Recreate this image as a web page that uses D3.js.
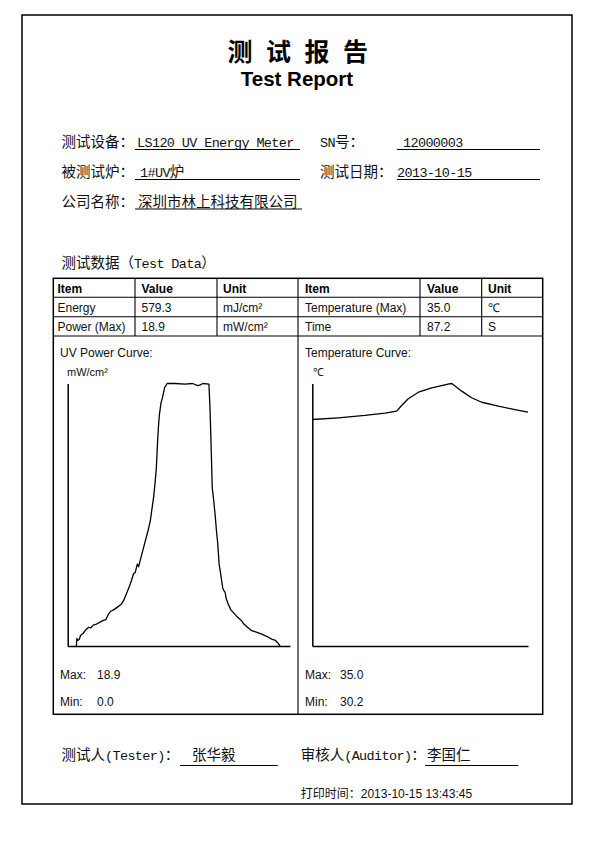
<!DOCTYPE html>
<html><head><meta charset="utf-8">
<script src="https://cdn.jsdelivr.net/npm/d3@7"></script>
<style>body{margin:0;background:#fff}svg{display:block}</style>
</head><body>
<svg id="c" width="595" height="842"></svg>
<script>
// ---------- data ----------
const titleCN = ["测","试","报","告"];
const titleEN = "Test Report";
const infoRows = [
  {label:"测试设备：", value:"LS120 UV Energy Meter", label2:"SN号：", value2:"12000003"},
  {label:"被测试炉：", value:"1#UV炉", label2:"测试日期：", value2:"2013-10-15"},
  {label:"公司名称：", value:"深圳市林上科技有限公司"}
];
const sectionTitle = "测试数据（Test Data）";
const tableHeader = ["Item","Value","Unit","Item","Value","Unit"];
const tableRows = [
  ["Energy","579.3","mJ/cm²","Temperature (Max)","35.0","℃"],
  ["Power (Max)","18.9","mW/cm²","Time","87.2","S"]
];
const totalTime = 87.2;
const uvMax = 18.9, uvMin = 0.0, tempMax = 35.0, tempMin = 30.2;
const uvTime  = [3.4,3.6,4.0,4.6,5.0,6.0,7.0,8.2,9.0,10.0,11.0,12.5,14.0,15.0,16.0,16.8,18.0,19.5,21.0,22.0,23.0,24.0,25.0,25.8,26.5,27.3,27.8,28.5,29.5,30.5,31.5,32.4,33.0,33.7,34.3,34.8,35.2,35.6,36.0,36.6,37.2,38.0,39.0,42.0,46.0,49.0,51.0,52.0,53.0,55.4,55.8,56.2,56.7,57.2,57.8,58.4,58.8,59.4,60.0,60.4,60.8,61.2,61.7,62.2,63.0,64.0,65.0,66.5,68.3,69.0,70.5,72.2,74.0,76.1,78.0,80.0,81.5,82.5,83.3];
const uvPower = [0.0,0.55,0.4,0.5,0.75,0.9,1.15,1.35,1.3,1.5,1.55,1.7,1.85,1.9,2.3,2.5,2.6,2.8,3.0,3.3,3.75,4.2,4.7,5.2,5.3,5.9,5.7,6.2,6.9,7.6,8.3,9.0,9.8,10.7,11.8,12.9,14.5,15.8,16.7,17.5,17.9,18.6,18.9,18.9,18.85,18.9,18.75,18.8,18.9,18.85,17.2,14.8,11.4,10.6,9.5,8.2,7.5,5.9,5.2,4.7,4.2,4.0,3.9,3.4,3.0,2.6,2.4,2.1,1.8,1.6,1.35,1.1,1.0,0.85,0.7,0.5,0.4,0.2,0.0];
const tempTime  = [0,10.5,21.3,29.4,34.1,36.1,38.8,42.9,48.3,52.3,55.3,56.4,60.4,64.4,68.5,75.2,81.9,87.2];
const tempValue = [30.2,30.43,30.74,31.04,31.31,32.07,32.96,33.84,34.43,34.73,34.96,35.0,33.98,33.1,32.5,31.97,31.53,31.18];
const tester = "张华毅", auditor = "李国仁";
const printTime = "2013-10-15 13:43:45";

// ---------- drawing ----------
const svg = d3.select("#c");
const CJK = "'Noto Sans CJK SC', sans-serif";
const MONO = "'Liberation Mono', monospace";
const ARIAL = "'Liberation Sans', Arial, sans-serif";

svg.append("rect").attr("width",595).attr("height",842).attr("fill","#fff");
svg.append("rect").attr("x",22).attr("y",15).attr("width",550).attr("height",789)
  .attr("fill","none").attr("stroke","#000").attr("stroke-width",1.5);

function mixed(x, y, str, size){
  const t = svg.append("text").attr("x",x).attr("y",y).attr("fill","#111");
  (str.match(/[\x20-\x7E]+|[^\x20-\x7E]+/g)||[]).forEach(run=>{
    const ascii = /^[\x20-\x7E]+$/.test(run);
    const sp = t.append("tspan").attr("font-family", ascii?MONO:CJK)
      .style("white-space","pre").text(run);
    if(ascii){
      const fs = size*0.93;
      sp.attr("font-size",fs).attr("letter-spacing", (size*0.515 - fs*0.6).toFixed(2));
    } else sp.attr("font-size",size);
  });
  return t;
}
function uline(x1,x2,y){
  svg.append("line").attr("x1",x1).attr("x2",x2).attr("y1",y).attr("y2",y)
    .attr("stroke","#000").attr("stroke-width",1.1);
}

// title
titleCN.forEach((ch,i)=>{
  svg.append("text").attr("x",240+i*38.5).attr("y",61).attr("text-anchor","middle")
    .attr("font-family",CJK).attr("font-weight","bold").attr("font-size",25).text(ch);
});
svg.append("text").attr("x",297).attr("y",86).attr("text-anchor","middle")
  .attr("font-family",ARIAL).attr("font-weight","bold").attr("font-size",20.5).text(titleEN);

// info rows
const rowY = [147,177,207];
const lineY = [149.5,179.5,209];
infoRows.forEach((r,i)=>{
  mixed(61.5,rowY[i],r.label,14.5);
  mixed(i===1?140:(i===2?138:137),rowY[i],r.value,14.5);
  uline(135, i===2?302:300, lineY[i]);
  if(r.label2){
    mixed(320,rowY[i],r.label2,14.5);
    mixed(i===0?403:397,rowY[i],r.value2,14.5);
    uline(397,540,lineY[i]);
  }
});

mixed(61.5,268,sectionTitle,14.5);

// table
const tL=53.3,tR=542.7,tT=278.3,tB=714.3, mid=298;
const colX=[53.3,135,217,298,420,481.7,542.7];
const rowLines=[278.3,297.3,316.7,336];
const tg = svg.append("g").attr("stroke","#000");
tg.append("rect").attr("x",tL).attr("y",tT).attr("width",tR-tL).attr("height",tB-tT)
  .attr("fill","none").attr("stroke-width",1.5);
rowLines.slice(1).forEach(y=>tg.append("line").attr("x1",tL).attr("x2",tR).attr("y1",y).attr("y2",y).attr("stroke-width",1.1));
colX.slice(1,-1).forEach((x,i)=>tg.append("line").attr("x1",x).attr("x2",x).attr("y1",tT)
  .attr("y2", x===mid? tB : rowLines[3]).attr("stroke-width",1.1));
const textX=[57.5,141.5,223,305,427,488];
tableHeader.forEach((h,i)=>svg.append("text").attr("x",textX[i]).attr("y",292.5)
  .attr("font-family",ARIAL).attr("font-weight","bold").attr("font-size",12).text(h));
tableRows.forEach((r,j)=>r.forEach((v,i)=>svg.append("text").attr("x",textX[i]).attr("y",[311.8,331][j])
  .attr("font-family",ARIAL).attr("font-size",12).attr("fill","#111").text(v)));

// charts
function chart(cfg){
  svg.append("text").attr("x",cfg.tx).attr("y",357).attr("font-family",ARIAL).attr("font-size",12).attr("fill","#111").text(cfg.title);
  svg.append("text").attr("x",cfg.ux).attr("y",375.5).attr("font-family",ARIAL).attr("font-size",11).attr("fill","#111").text(cfg.unit);
  const x = d3.scaleLinear().domain([0,totalTime]).range([cfg.x0,cfg.x1]);
  const y = d3.scaleLinear().domain([0,cfg.ymax]).range([646,383.5]);
  const gx = svg.append("g").attr("transform",`translate(0,${y(0)})`)
    .call(d3.axisBottom(x).tickValues([]).tickSizeOuter(0));
  const gy = svg.append("g").attr("transform",`translate(${x(0)},0)`)
    .call(d3.axisLeft(y).tickValues([]).tickSizeOuter(0));
  [gx,gy].forEach(g=>g.select(".domain").attr("stroke","#000").attr("stroke-width",1.5));
  const pts = cfg.t.map((t,i)=>[t,cfg.v[i]]);
  svg.append("path").datum(pts).attr("fill","none").attr("stroke","#000").attr("stroke-width",1.3)
    .attr("stroke-linejoin","round")
    .attr("d", d3.line().x(d=>x(d[0])).y(d=>y(d[1])));
  const fmt = d3.format(".1f");
  svg.append("text").attr("x",cfg.tx).attr("y",679).attr("font-family",ARIAL).attr("font-size",12).attr("fill","#111").text("Max:");
  svg.append("text").attr("x",cfg.vx).attr("y",679).attr("font-family",ARIAL).attr("font-size",12).attr("fill","#111").text(fmt(cfg.max));
  svg.append("text").attr("x",cfg.tx).attr("y",705.5).attr("font-family",ARIAL).attr("font-size",12).attr("fill","#111").text("Min:");
  svg.append("text").attr("x",cfg.vx).attr("y",705.5).attr("font-family",ARIAL).attr("font-size",12).attr("fill","#111").text(fmt(cfg.min));
}
chart({title:"UV Power Curve:",unit:"mW/cm²",tx:60,ux:67,vx:97,x0:67.7,x1:290,ymax:uvMax,t:uvTime,v:uvPower,max:uvMax,min:uvMin});
chart({title:"Temperature Curve:",unit:"℃",tx:305,ux:312.5,vx:340,x0:312.3,x1:528,ymax:tempMax,t:tempTime,v:tempValue,max:tempMax,min:tempMin});

// signatures
mixed(61.5,760,"测试人(Tester)：",14.5);
mixed(192,760,tester,14.5);
uline(180,277.7,765.5);
mixed(300.7,760,"审核人(Auditor)：",14.5);
mixed(427,760,auditor,14.5);
uline(425,518.3,765.5);
const pt = svg.append("text").attr("x",300.7).attr("y",797.5).attr("fill","#111");
pt.append("tspan").attr("font-family",CJK).attr("font-size",12).text("打印时间：");
pt.append("tspan").attr("font-family",ARIAL).attr("font-size",12).text(printTime);
</script>
</body></html>
